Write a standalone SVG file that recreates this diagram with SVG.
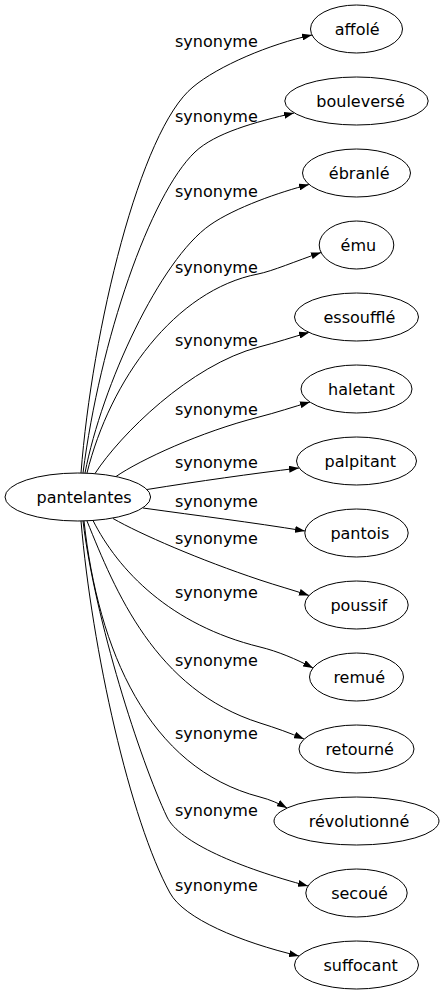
<svg xmlns="http://www.w3.org/2000/svg" width="444" height="995" viewBox="0 0 444 995">
<style>
text{font-family:"DejaVu Sans","Liberation Sans",sans-serif;font-size:16px;fill:#000}
.n ellipse{fill:#fff;stroke:#000;stroke-width:1}
.e path{fill:none;stroke:#000;stroke-width:1;marker-end:url(#arr)}
</style>
<defs>
<marker id="arr" markerWidth="10" markerHeight="7" refX="10" refY="3.5" orient="auto" markerUnits="userSpaceOnUse"><path d="M0,0L10,3.5L0,7z" fill="#000"/></marker>
</defs>
<g id="edges" class="e">
<path d="M81,473 C92,330 140,130 193,87 C218,66 270,44 312,35"/>
<path d="M83,473 C100,340 150,195 195,152 C215,133 255,122 294,113"/>
<path d="M85,473 C102,385 160,260 210,225 C235,207.5 280,192 309,184.5"/>
<path d="M87,473 C110,380 175,290 258,274 C272,271.3 296,261 321,252.5"/>
<path d="M95,473.5 C120,435 190,365 259,347 C276,342.6 293,337 309,332.4"/>
<path d="M116,476.5 C140,460 200,432 259,417 C276,412.7 293,407 310,402"/>
<path d="M147,489.5 C200,481 250,474 299,468"/>
<path d="M143,508 C200,516 250,522 305,531"/>
<path d="M113,518.5 C140,534 200,560 260,580 C277,585.7 293,590 309,595.5"/>
<path d="M93,520.5 C118,570 170,625 260,647 C278,651.4 296,659 313,668"/>
<path d="M87,521 C115,590 155,690 260,723 C276,728 290,733 304,739"/>
<path d="M84,521 C98,650 148,768 260,797 C270,799.6 279,803.5 287,808"/>
<path d="M83,521 C95,620 140,760 167,817 C179,842.3 240,868 308,886"/>
<path d="M81,521 C92,650 130,820 170,893 C184,918.5 240,942 299,956"/>
<text x="175" y="46.5">synonyme</text>
<text x="175" y="121.5">synonyme</text>
<text x="175" y="196.5">synonyme</text>
<text x="175" y="272.5">synonyme</text>
<text x="175" y="345.5">synonyme</text>
<text x="175" y="414.5">synonyme</text>
<text x="175" y="467.5">synonyme</text>
<text x="175" y="506.5">synonyme</text>
<text x="175" y="543.5">synonyme</text>
<text x="175" y="597.5">synonyme</text>
<text x="175" y="665.5">synonyme</text>
<text x="175" y="738.5">synonyme</text>
<text x="175" y="815.5">synonyme</text>
<text x="175" y="890.5">synonyme</text>
</g>
<g id="pantelantes" class="n"><ellipse cx="77.8" cy="497" rx="72.8" ry="24"/><text x="36.6" y="502.5">pantelantes</text></g>
<g id="affole" class="n"><ellipse cx="356.5" cy="29" rx="46" ry="24"/><text x="334.8" y="34.5">affolé</text></g>
<g id="bouleverse" class="n"><ellipse cx="356.5" cy="101" rx="71.7" ry="24"/><text x="316.3" y="106.5">bouleversé</text></g>
<g id="ebranle" class="n"><ellipse cx="356.5" cy="173" rx="54" ry="24"/><text x="328.8" y="178.5">ébranlé</text></g>
<g id="emu" class="n"><ellipse cx="356.5" cy="245" rx="37.3" ry="24"/><text x="340.6" y="250.5">ému</text></g>
<g id="essouffle" class="n"><ellipse cx="356.5" cy="317" rx="62" ry="24"/><text x="323.5" y="322.5">essoufflé</text></g>
<g id="haletant" class="n"><ellipse cx="356.5" cy="389" rx="55.5" ry="24"/><text x="328.1" y="394.5">haletant</text></g>
<g id="palpitant" class="n"><ellipse cx="356.5" cy="461" rx="60" ry="24"/><text x="324.6" y="466.5">palpitant</text></g>
<g id="pantois" class="n"><ellipse cx="356.5" cy="533" rx="51.7" ry="24"/><text x="330.4" y="538.5">pantois</text></g>
<g id="poussif" class="n"><ellipse cx="356.5" cy="605" rx="51.7" ry="24"/><text x="330.4" y="610.5">poussif</text></g>
<g id="remue" class="n"><ellipse cx="356.5" cy="677" rx="47" ry="24"/><text x="333.4" y="682.5">remué</text></g>
<g id="retourne" class="n"><ellipse cx="356.5" cy="749" rx="57.5" ry="24"/><text x="325.4" y="754.5">retourné</text></g>
<g id="revolutionne" class="n"><ellipse cx="356.5" cy="821" rx="82.5" ry="24"/><text x="308.7" y="826.5">révolutionné</text></g>
<g id="secoue" class="n"><ellipse cx="356.5" cy="893" rx="50.7" ry="24"/><text x="331.2" y="898.5">secoué</text></g>
<g id="suffocant" class="n"><ellipse cx="356.5" cy="965" rx="62" ry="24"/><text x="323.5" y="970.5">suffocant</text></g>
</svg>
